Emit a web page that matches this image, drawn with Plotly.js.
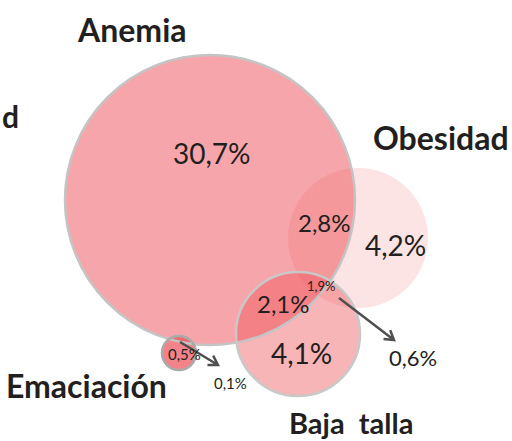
<!DOCTYPE html>
<html>
<head>
<meta charset="utf-8">
<script src="https://cdn.plot.ly/plotly-3.0.1.min.js"></script>
<style>html,body{margin:0;padding:0;background:#fff;}#chart{width:512px;height:441px;}</style>
</head>
<body>
<div id="chart"></div>
<script>
// Sets (circles)
var setNames   = ["Anemia", "Obesidad", "Baja  talla", "Emaciación"];
var setCx      = [210, 358, 298, 179];
var setCy      = [200, 238, 334, 353];
var setR       = [145, 70, 62, 17];
var setAlpha   = [0.5, 0.16, 0.42, 0.7];
var setStroke  = ["#c4c4c4", "rgba(0,0,0,0)", "#c8c8c8", "#aaaaaa"];

// Set title labels
var titleText  = ["Anemia", "Obesidad", "Emaciación", "Baja  talla", "d"];
var titleX     = [132, 441, 86, 351, 0];
var titleY     = [29, 137, 385, 422, 116];
var titleSize  = [32, 32, 32, 29, 30];

// Percentage labels
var pctText    = ["30,7%", "2,8%", "4,2%", "2,1%", "4,1%", "1,9%", "0,6%", "0,5%", "0,1%"];
var pctX       = [212, 324, 395, 283, 301, 321, 413, 184, 230];
var pctY       = [153, 222, 245, 303, 353, 286, 357, 354, 383];
var pctSize    = [28, 24, 28, 24, 28, 13, 22, 15, 15];

// Pointer arrows (from, to)
var arrFromX   = [339, 180];
var arrFromY   = [298, 342];
var arrToX     = [394, 218];
var arrToY     = [340, 365];

var base = [238, 78, 86];
var shapes = [];
for (var i = 0; i < setNames.length; i++) {
  shapes.push({type: "circle", xref: "x", yref: "y",
    x0: setCx[i] - setR[i], x1: setCx[i] + setR[i],
    y0: setCy[i] - setR[i], y1: setCy[i] + setR[i],
    fillcolor: "rgba(" + base.join(",") + "," + setAlpha[i] + ")",
    line: {width: 0}});
}
for (var i = 0; i < setNames.length; i++) {
  shapes.push({type: "circle", xref: "x", yref: "y",
    x0: setCx[i] - setR[i], x1: setCx[i] + setR[i],
    y0: setCy[i] - setR[i], y1: setCy[i] + setR[i],
    fillcolor: "rgba(0,0,0,0)",
    line: {width: 2.5, color: setStroke[i]}});
}
for (var k = 0; k < arrFromX.length; k++) {
  var dx = arrToX[k] - arrFromX[k], dy = arrToY[k] - arrFromY[k];
  var L = Math.sqrt(dx*dx + dy*dy), ux = dx/L, uy = dy/L;
  var h = 9, w = 5.5;
  var bx = arrToX[k] - ux*h, by = arrToY[k] - uy*h;
  var p1x = bx - uy*w, p1y = by + ux*w, p2x = bx + uy*w, p2y = by - ux*w;
  shapes.push({type: "path", xref: "x", yref: "y",
    path: "M" + arrFromX[k] + "," + arrFromY[k] + " L" + arrToX[k] + "," + arrToY[k] +
          " M" + p1x + "," + p1y + " L" + arrToX[k] + "," + arrToY[k] + " L" + p2x + "," + p2y,
    line: {color: "#505050", width: 2.5}});
}

var annotations = [];
for (var i = 0; i < titleText.length; i++) {
  annotations.push({x: titleX[i], y: titleY[i], xref: "x", yref: "y", text: "<b>" + titleText[i] + "</b>",
    showarrow: false, xanchor: (i === 4 ? "left" : "center"), yanchor: "middle",
    font: {family: "Lato, 'Open Sans', sans-serif", size: titleSize[i], color: "#231f20"}});
}
for (var i = 0; i < pctText.length; i++) {
  annotations.push({x: pctX[i], y: pctY[i], xref: "x", yref: "y", text: pctText[i],
    showarrow: false, xanchor: "center", yanchor: "middle",
    font: {family: "Lato, 'Open Sans', sans-serif", size: pctSize[i], color: "#231f20"}});
}

var layout = {
  width: 512, height: 441,
  margin: {l: 0, r: 0, t: 0, b: 0},
  paper_bgcolor: "#fff", plot_bgcolor: "#fff",
  xaxis: {range: [0, 512], visible: false, fixedrange: true},
  yaxis: {range: [441, 0], visible: false, fixedrange: true},
  shapes: shapes, annotations: annotations, showlegend: false
};
Plotly.newPlot("chart", [], layout, {staticPlot: true, displayModeBar: false});
</script>
</body>
</html>
